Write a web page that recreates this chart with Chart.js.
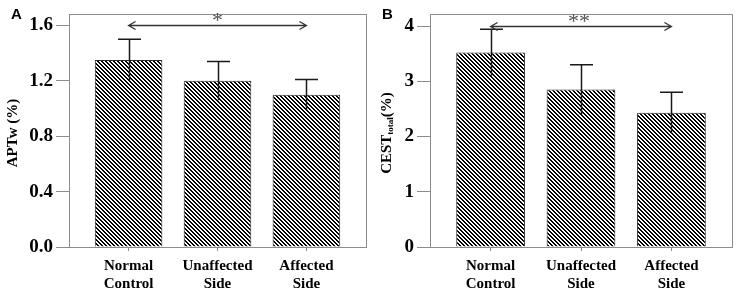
<!DOCTYPE html>
<html>
<head>
<meta charset="utf-8">
<script src="https://cdn.jsdelivr.net/npm/chart.js@4/dist/chart.umd.min.js"></script>
<style>
  html, body { margin: 0; padding: 0; background: #fff; }
  #wrap { position: relative; width: 737px; height: 300px; overflow: hidden; }
  .panel { position: absolute; top: 0; height: 300px; }
</style>
</head>
<body>
<div id="wrap">
  <div class="panel" style="left:0;width:370px"><canvas id="chartA" width="370" height="300"></canvas></div>
  <div class="panel" style="left:370px;width:367px"><canvas id="chartB" width="367" height="300"></canvas></div>
</div>
<script>
// groups on the x axis
var categories = ['Normal Control', 'Unaffected Side', 'Affected Side'];

// panel A: APTw (%)
var aptwMean = [1.35, 1.20, 1.10];
var aptwSD = [0.15, 0.14, 0.11];
var aptwTicks = [0, 0.4, 0.8, 1.2, 1.6];

// panel B: CEST total (%)
var cestMean = [3.52, 2.85, 2.43];
var cestSD = [0.42, 0.45, 0.37];
var cestTicks = [0, 1, 2, 3, 4];

var serif = '"Liberation Serif", "Times New Roman", serif';
var axisGray = '#8c8c8c';

// diagonal hatch "\\\\" used for the bars
function hatchPattern(ctx) {
  var tile = document.createElement('canvas');
  tile.width = 4; tile.height = 4;
  var t = tile.getContext('2d');
  var img = t.createImageData(4, 4);
  for (var y = 0; y < 4; y++) {
    for (var x = 0; x < 4; x++) {
      var k = (y * 4 + x) * 4;
      var on = (((x - y) % 4) + 4) % 4 < 2;
      var c = on ? 0 : 255;
      img.data[k] = c; img.data[k + 1] = c; img.data[k + 2] = c; img.data[k + 3] = 255;
    }
  }
  t.putImageData(img, 0, 0);
  return ctx.createPattern(tile, 'repeat');
}

function extras(cfg) {
  return {
    id: 'extras',
    afterDatasetsDraw: function (chart) {
      var c = chart.ctx, area = chart.chartArea;
      var ys = chart.scales.y;
      var meta = chart.getDatasetMeta(0);

      // frame round the plot
      c.save();
      c.strokeStyle = axisGray;
      c.lineWidth = 1;
      c.strokeRect(Math.round(area.left) + 0.5, Math.round(area.top) + 0.5,
        Math.round(area.right - area.left), Math.round(area.bottom - area.top));

      // error bars: line from mean-sd to mean+sd, cap on top
      c.strokeStyle = '#1a1a1a';
      c.lineWidth = 1.5;
      meta.data.forEach(function (bar, i) {
        var x = Math.round(bar.x) + 0.5;
        var top = ys.getPixelForValue(cfg.mean[i] + cfg.sd[i]);
        var low = ys.getPixelForValue(cfg.mean[i] - cfg.sd[i]);
        c.beginPath();
        c.moveTo(x, low); c.lineTo(x, top);
        c.moveTo(x - 11.5, top); c.lineTo(x + 11.5, top);
        c.stroke();
      });

      // significance arrow between first and last group
      var x1 = meta.data[0].x, x2 = meta.data[2].x;
      var ay = Math.round(ys.getPixelForValue(cfg.arrowAt)) + 0.5;
      c.strokeStyle = '#333';
      c.lineWidth = 1.3;
      c.beginPath();
      c.moveTo(x1, ay); c.lineTo(x2, ay);
      c.moveTo(x1 + 7, ay - 4); c.lineTo(x1, ay); c.lineTo(x1 + 7, ay + 4);
      c.moveTo(x2 - 7, ay - 4); c.lineTo(x2, ay); c.lineTo(x2 - 7, ay + 4);
      c.stroke();
      c.fillStyle = '#555';
      c.font = '22px ' + serif;
      c.textAlign = 'center';
      c.textBaseline = 'alphabetic';
      c.fillText(cfg.stars, meta.data[1].x - cfg.starShift, ay + 1);

      // panel letter
      c.fillStyle = '#000';
      c.font = 'bold 15px "Liberation Sans", Arial, sans-serif';
      c.textAlign = 'left';
      c.textBaseline = 'middle';
      c.fillText(cfg.letter, cfg.letterX, 15);

      // y axis title, rotated, with optional subscript
      c.translate(cfg.titleX, 133);
      c.rotate(-Math.PI / 2);
      c.textBaseline = 'middle';
      var big = 'bold 15px ' + serif, small = 'bold 9px ' + serif;
      c.font = big; var w1 = c.measureText(cfg.title[0]).width;
      c.font = small; var w2 = cfg.title[1] ? c.measureText(cfg.title[1]).width : 0;
      c.font = big; var w3 = c.measureText(cfg.title[2]).width;
      var x0 = -(w1 + w2 + w3) / 2;
      c.textAlign = 'left';
      c.font = big; c.fillText(cfg.title[0], x0, 0);
      if (cfg.title[1]) { c.font = small; c.fillText(cfg.title[1], x0 + w1, 4); }
      c.font = big; c.fillText(cfg.title[2], x0 + w1 + w2, 0);
      c.restore();
    }
  };
}

function makeChart(id, cfg) {
  var canvas = document.getElementById(id);
  var ctx = canvas.getContext('2d');
  return new Chart(ctx, {
    type: 'bar',
    data: {
      datasets: [{
        data: cfg.mean.map(function (v, i) { return { x: i + 1, y: v }; }),
        backgroundColor: hatchPattern(ctx),
        borderColor: '#2a2a2a',
        borderWidth: 1,
        barPercentage: 0.76,
        categoryPercentage: 1
      }]
    },
    options: {
      responsive: false,
      animation: false,
      layout: { padding: { left: 0, top: cfg.padTop, right: cfg.padRight, bottom: 0 } },
      plugins: { legend: { display: false }, tooltip: { enabled: false } },
      scales: {
        x: {
          type: 'linear',
          min: 0.33, max: 3.67,
          offset: false,
          grid: { offset: false, drawOnChartArea: false, tickLength: 4, color: axisGray },
          border: { display: false },
          afterBuildTicks: function (s) {
            s.ticks = categories.map(function (c, i) { return { value: i + 1 }; });
          },
          afterFit: function (s) { s.height = 53; },
          ticks: {
            color: '#000',
            padding: 6,
            maxRotation: 0,
            font: { family: serif, size: 15, weight: 'bold', lineHeight: 1.2 },
            callback: function (v) { return categories[v - 1].split(' '); }
          }
        },
        y: {
          min: 0, max: cfg.yMax,
          grid: { drawOnChartArea: false, tickLength: 13, color: axisGray },
          border: { display: false },
          afterBuildTicks: function (s) {
            s.ticks = cfg.ticks.map(function (v) { return { value: v }; });
          },
          afterFit: function (s) { s.width = cfg.yWidth; },
          ticks: {
            color: '#000',
            padding: 3,
            font: { family: serif, size: 19, weight: 'bold' },
            callback: cfg.fmt
          }
        }
      }
    },
    plugins: [extras(cfg)]
  });
}

makeChart('chartA', {
  mean: aptwMean, sd: aptwSD, ticks: aptwTicks, yMax: 1.68,
  fmt: function (v) { return v.toFixed(1); },
  arrowAt: 1.6, stars: '*', starShift: 0,
  letter: 'A', letterX: 11,
  title: ['APTw (%)', '', ''],
  titleX: 13, yWidth: 69, padTop: 12, padRight: 4
});

makeChart('chartB', {
  mean: cestMean, sd: cestSD, ticks: cestTicks, yMax: 4.21,
  fmt: function (v) { return String(v); },
  arrowAt: 4, stars: '**', starShift: 2,
  letter: 'B', letterX: 12,
  title: ['CEST', 'total', '(%)'],
  titleX: 17, yWidth: 60, padTop: 10, padRight: 5
});
</script>
</body>
</html>
